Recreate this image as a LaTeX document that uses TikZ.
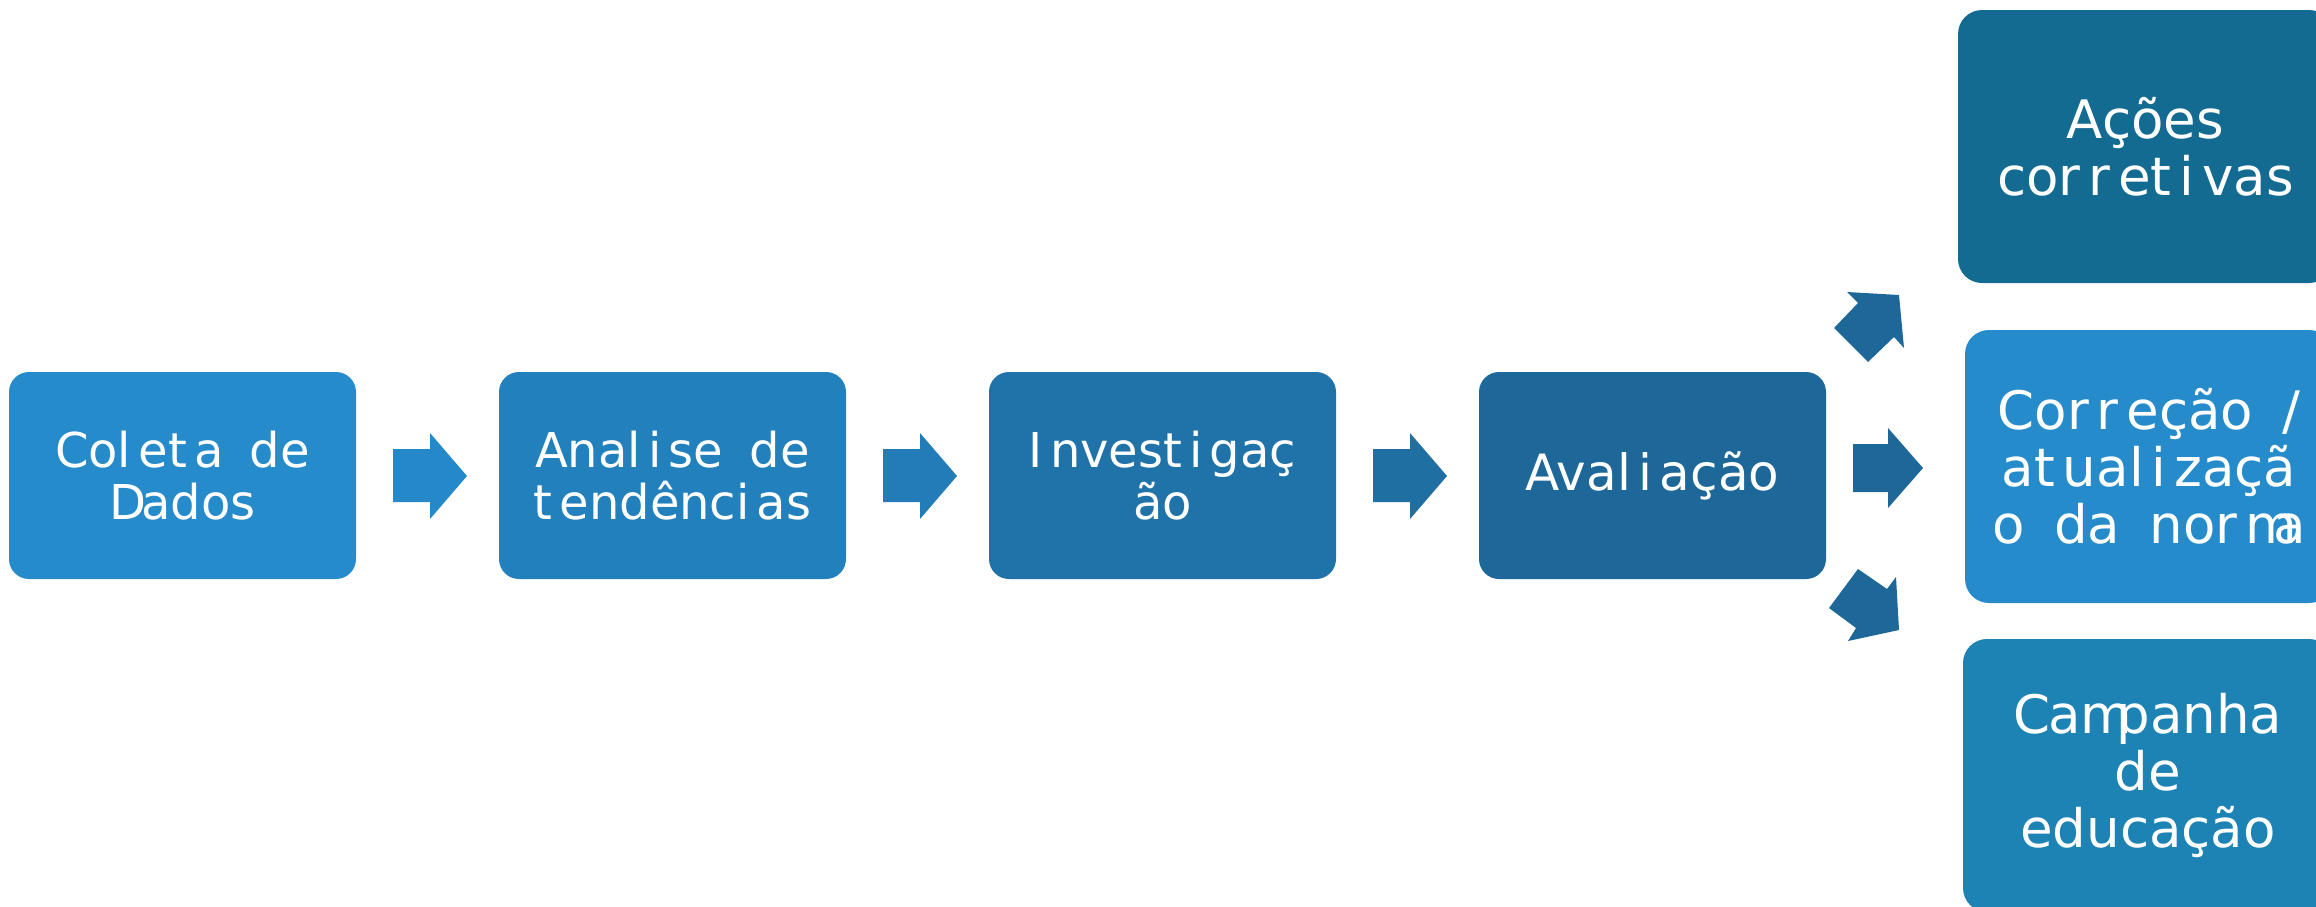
\documentclass[tikz,border=0pt]{standalone}
\usepackage{fontspec}
\setmainfont{DejaVu Sans}
\definecolor{cOne}{RGB}{37,139,203}
\definecolor{cTwo}{RGB}{34,128,188}
\definecolor{cThree}{RGB}{32,115,169}
\definecolor{cFour}{RGB}{29,104,152}
\definecolor{cTop}{RGB}{20,107,146}
\definecolor{cMid}{RGB}{37,139,203}
\definecolor{cBot}{RGB}{29,131,180}
\definecolor{aOne}{RGB}{37,137,201}
\definecolor{aTwo}{RGB}{33,124,183}
\definecolor{aThree}{RGB}{31,111,162}
% spacing helpers for the wide letter spacing of the labels
\newcommand\lgap{\kern.15em}
\newcommand\wgap{\hspace{.55em}}
\begin{document}
\begin{tikzpicture}[x=1pt,y=-1pt,
  stage/.style={rounded corners=20pt, inner sep=0pt, minimum width=347pt,
    minimum height=207pt, text=white, align=center,
    font={\fontsize{48}{52}\selectfont}},
  result/.style={rounded corners=24pt, inner sep=0pt, minimum height=273pt,
    text=white, align=center, font={\fontsize{53}{57}\selectfont}},
  blockarrow/.pic={\fill (0,-27) -- (37,-27) -- (37,-43) -- (74,0) -- (37,43)
    -- (37,26) -- (0,26) -- cycle;}]
\clip (0,0) rectangle (2316,906);

% main sequence of stages
\node[stage, fill=cOne] (coleta) at (182.5,475.5)
  {Col\lgap et\lgap a\wgap de\\D\kern-.1em ados};
\node[stage, fill=cTwo] (analise) at (672.5,475.5)
  {Anal\lgap i\lgap se\wgap de\\t\lgap endênci\lgap as};
\node[stage, fill=cThree] (invest) at (1162.5,475.5)
  {I\lgap nvest\lgap i\lgap gaç\\ão};
\node[stage, fill=cFour, font={\fontsize{50}{54}\selectfont}] (aval) at (1652.5,475.5)
  {Aval\lgap i\lgap ação};

% outcomes on the right
\node[result, fill=cTop, minimum width=375pt] (acoes) at (2145.5,146.5)
  {Ações\\cor\lgap r\lgap et\lgap i\lgap vas};
\node[result, fill=cMid, minimum width=368pt] (correcao) at (2149,466.5)
  {Cor\lgap r\lgap eção\wgap /\\at\lgap ual\lgap i\lgap zaçã\\o\wgap da\wgap nor\lgap m\kern-.45em a};
\node[result, fill=cBot, minimum width=370pt] (campanha) at (2148,775.5)
  {C\kern-.05em am\kern-.3em panha\\de\\educação};

% block arrows between the stages
\pic[aOne] at (393,476) {blockarrow};
\pic[aTwo] at (883,476) {blockarrow};
\pic[aThree] at (1373,476) {blockarrow};

% block arrows from the evaluation to the outcomes
\fill[cFour] (1853,444) -- (1888,444) -- (1888,428) -- (1923,468)
  -- (1888,508) -- (1888,492) -- (1853,492) -- cycle;
\fill[cFour] (1834,328) -- (1858,303) -- (1847,292) -- (1899,295)
  -- (1904,348) -- (1894,337) -- (1868,362) -- cycle;
\fill[cFour] (1858,569) -- (1887,589) -- (1896,577) -- (1899,630)
  -- (1848,641) -- (1856,628) -- (1829,608) -- cycle;
\end{tikzpicture}
\end{document}
